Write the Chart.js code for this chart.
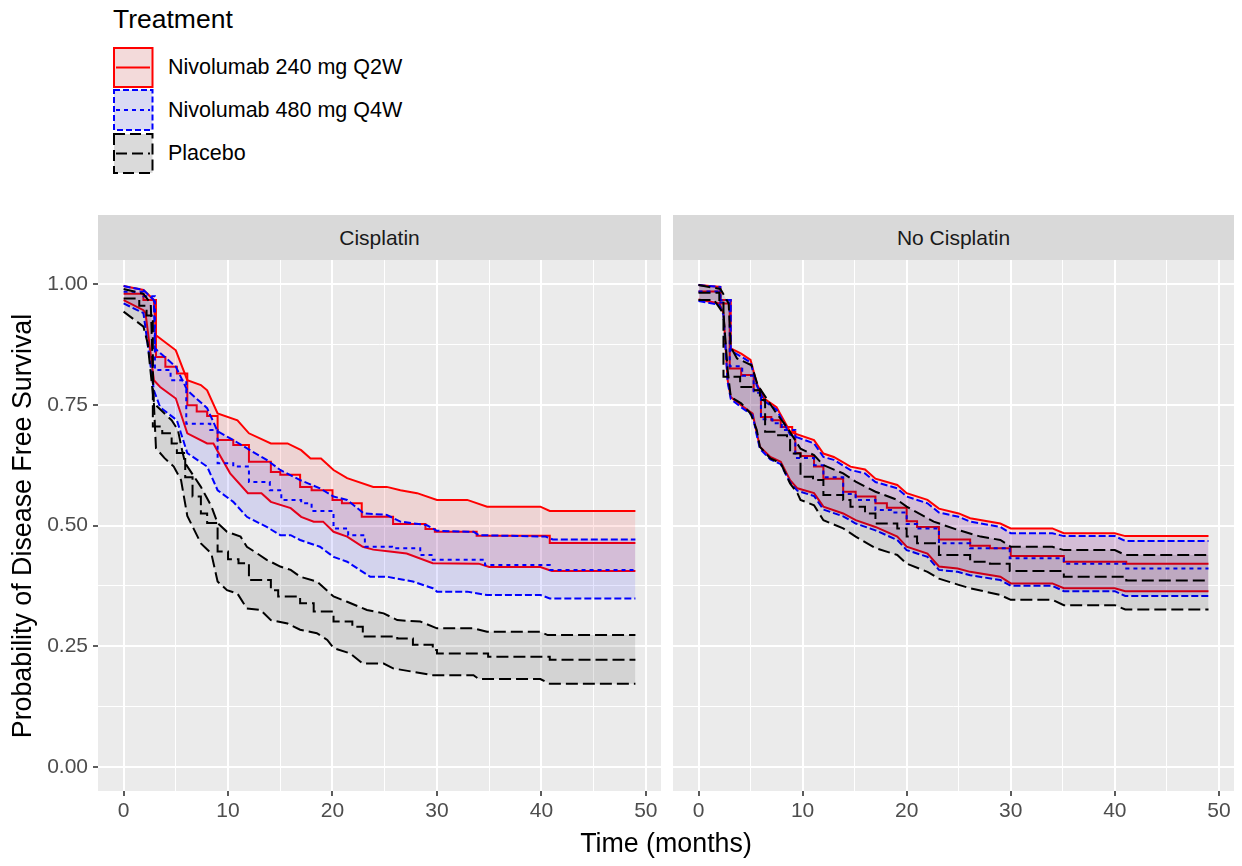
<!DOCTYPE html>
<html><head><meta charset="utf-8">
<script src="https://cdn.jsdelivr.net/npm/chart.js@4.4.1/dist/chart.umd.min.js"></script>
<style>
body{margin:0;background:#fff;width:1242px;height:866px;overflow:hidden;font-family:"Liberation Sans",Arial,sans-serif;position:relative;color:#000}
.abs{position:absolute;white-space:nowrap}
.strip{position:absolute;top:215px;height:45px;background:#D9D9D9;color:#1A1A1A;font-size:21px;display:flex;align-items:center;justify-content:center}
canvas{position:absolute}
</style></head><body>
<div class="abs" style="left:113px;top:4px;font-size:26.5px;line-height:30px">Treatment</div>
<svg class="abs" style="left:0;top:0" width="160" height="190">
 <rect x="114" y="48" width="38.5" height="39" fill="rgb(243,218,218)" stroke="#FF0000" stroke-width="2"/>
 <line x1="116" x2="150" y1="67.5" y2="67.5" stroke="#FF0000" stroke-width="2"/>
 <rect x="114" y="90" width="38.5" height="40" fill="rgb(218,218,243)" stroke="#0000FF" stroke-width="2" stroke-dasharray="6,3"/>
 <line x1="116" x2="150" y1="110" y2="110" stroke="#0000FF" stroke-width="2" stroke-dasharray="4,4"/>
 <rect x="114" y="134" width="38.5" height="39" fill="rgb(218,218,218)" stroke="#000000" stroke-width="2" stroke-dasharray="11,5"/>
 <line x1="116" x2="150" y1="153.5" y2="153.5" stroke="#000000" stroke-width="2" stroke-dasharray="11,5"/>
</svg>
<div id="lg0" class="abs" style="left:168px;top:54px;font-size:21.5px;line-height:26px"></div>
<div id="lg1" class="abs" style="left:168px;top:97px;font-size:21.5px;line-height:26px"></div>
<div id="lg2" class="abs" style="left:168px;top:140px;font-size:21.5px;line-height:26px"></div>
<div id="st0" class="strip" style="left:98px;width:563px"></div>
<div id="st1" class="strip" style="left:673px;width:561px"></div>
<canvas id="c0" width="665" height="580" style="left:0;top:250px"></canvas>
<canvas id="c1" width="570" height="580" style="left:668px;top:250px"></canvas>
<div class="abs" style="left:-278px;top:511px;width:600px;text-align:center;font-size:26.8px;line-height:30px;transform:rotate(-90deg)">Probability of Disease Free Survival</div>
<div class="abs" style="left:366px;top:828px;width:600px;text-align:center;font-size:26.8px;line-height:30px">Time (months)</div>
<script>
const treatments = ['Nivolumab 240 mg Q2W','Nivolumab 480 mg Q4W','Placebo'];
const facets = ['Cisplatin','No Cisplatin'];
const xMajor = [0,10,20,30,40,50];
const xMinor = [5,15,25,35,45];
const yMajor = [0,0.25,0.5,0.75,1];
const yMinor = [0.125,0.375,0.625,0.875];

// ---- Cisplatin: [time (months), probability]
const cisN240Est = [[0,0.980],[1.9,0.967],[3.1,0.849],[4.0,0.829],[5.1,0.815],[6.1,0.749],[7.0,0.736],[8.0,0.727],[9.0,0.677],[10.5,0.667],[12.0,0.632],[14.1,0.611],[15.0,0.605],[16.9,0.580],[18.0,0.573],[20.0,0.553],[20.9,0.546],[22.8,0.518],[25.8,0.503],[28.9,0.493],[29.8,0.487],[33.8,0.479],[40.8,0.464],[49,0.464]];
const cisN240Up = [[0,0.996],[1.9,0.988],[2.9,0.967],[3.1,0.894],[5.0,0.863],[6.1,0.801],[7.4,0.791],[8.0,0.780],[9.0,0.732],[10.9,0.718],[12.0,0.691],[14.1,0.670],[15.7,0.670],[17.0,0.656],[17.9,0.639],[18.9,0.639],[20.1,0.615],[21.4,0.598],[23.9,0.580],[25.2,0.580],[26.5,0.573],[28.1,0.567],[30.0,0.553],[32.9,0.553],[34.8,0.539],[39.9,0.539],[40.8,0.530],[49,0.530]];
const cisN240Lo = [[0,0.967],[1.9,0.946],[2.1,0.940],[2.9,0.801],[3.5,0.787],[5.0,0.763],[6.1,0.691],[8.0,0.670],[8.6,0.670],[9.2,0.646],[10.2,0.608],[11.9,0.567],[13.2,0.567],[14.1,0.549],[16.0,0.536],[17.0,0.518],[18.2,0.508],[19.1,0.508],[20.1,0.487],[21.4,0.477],[22.9,0.456],[23.9,0.450],[25.5,0.446],[27.1,0.442],[29.6,0.422],[34.0,0.421],[35.0,0.414],[39.9,0.414],[41.0,0.406],[49,0.406]];
const cisN480Est = [[0,0.984],[1.9,0.975],[3.0,0.822],[4.5,0.801],[6.0,0.711],[8.3,0.698],[9.0,0.629],[10.5,0.622],[12.0,0.590],[14.0,0.573],[15.1,0.553],[17.0,0.546],[18.0,0.530],[20.1,0.494],[21.5,0.480],[23.1,0.456],[25.7,0.453],[28.4,0.439],[29.6,0.429],[34.6,0.418],[40.8,0.408],[49,0.408]];
const cisN480Up = [[0,0.996],[1.9,0.988],[2.9,0.967],[3.0,0.867],[5.0,0.829],[6.1,0.780],[8.0,0.743],[9.0,0.695],[10.5,0.677],[12.1,0.656],[13.7,0.636],[15.0,0.615],[16.9,0.594],[18.8,0.577],[20.1,0.560],[21.4,0.553],[23.0,0.525],[25.2,0.522],[26.5,0.508],[29.0,0.501],[30.0,0.489],[33.5,0.487],[34.0,0.480],[40.4,0.477],[41.1,0.471],[49,0.471]];
const cisN480Lo = [[0,0.960],[1.9,0.940],[2.9,0.780],[3.5,0.745],[5.1,0.718],[6.1,0.650],[8.0,0.622],[9.0,0.573],[10.5,0.549],[11.8,0.518],[13.7,0.497],[15.0,0.480],[16.0,0.480],[16.9,0.470],[18.8,0.456],[20.1,0.435],[21.4,0.425],[23.6,0.394],[25.2,0.394],[27.7,0.384],[29.6,0.370],[30.0,0.363],[32.9,0.363],[34.8,0.356],[39.9,0.356],[40.8,0.349],[49,0.349]];
const cisPboEst = [[0,0.970],[1.5,0.955],[2.2,0.935],[2.8,0.705],[3.7,0.691],[4.6,0.670],[5.1,0.650],[5.9,0.600],[6.6,0.560],[7.4,0.525],[8.0,0.505],[9.0,0.446],[10.0,0.430],[11.0,0.422],[12.0,0.387],[14.1,0.366],[14.8,0.353],[16.9,0.339],[18.2,0.322],[20.1,0.301],[21.9,0.290],[22.9,0.270],[26.2,0.266],[27.7,0.253],[29.6,0.242],[30.0,0.235],[34.9,0.228],[40.8,0.222],[49,0.222]];
const cisPboUp = [[0,0.990],[1.9,0.980],[2.6,0.960],[2.9,0.753],[4.6,0.718],[5.2,0.698],[5.6,0.656],[5.9,0.629],[7.4,0.580],[8.4,0.540],[9.0,0.505],[9.9,0.487],[11.2,0.477],[11.8,0.456],[12.8,0.442],[13.7,0.429],[15.0,0.415],[16.0,0.408],[16.9,0.394],[18.5,0.384],[20.1,0.353],[21.4,0.342],[23.3,0.325],[24.9,0.318],[26.2,0.304],[28.4,0.301],[30.0,0.287],[33.5,0.287],[34.8,0.280],[39.9,0.280],[40.6,0.273],[49,0.273]];
const cisPboLo = [[0,0.943],[1.9,0.912],[2.3,0.878],[2.9,0.753],[3.1,0.660],[3.9,0.640],[4.8,0.622],[5.5,0.594],[6.1,0.520],[7.4,0.463],[8.4,0.442],[9.0,0.384],[9.9,0.366],[10.9,0.359],[11.8,0.328],[13.1,0.325],[14.1,0.304],[15.7,0.297],[16.9,0.284],[18.5,0.277],[19.5,0.263],[20.1,0.246],[21.7,0.235],[22.9,0.214],[24.9,0.214],[25.8,0.204],[27.7,0.197],[29.6,0.190],[33.5,0.190],[34.0,0.182],[39.9,0.182],[40.8,0.172],[49,0.172]];

// ---- No Cisplatin
const noN240Est = [[0,0.985],[2.1,0.960],[3.0,0.825],[4.1,0.812],[5.3,0.780],[6.0,0.725],[7.0,0.718],[7.9,0.704],[9.0,0.694],[9.3,0.650],[9.8,0.644],[11.1,0.622],[12.0,0.597],[13.9,0.570],[15.1,0.560],[17.0,0.546],[18.1,0.537],[20.0,0.509],[21.0,0.497],[23.1,0.471],[26.1,0.458],[28.0,0.453],[30.0,0.437],[35.1,0.425],[41.1,0.421],[49,0.421]];
const noN240Up = [[0,0.998],[2.1,0.994],[2.1,0.967],[3.1,0.967],[3.1,0.867],[4.1,0.856],[5.0,0.843],[5.6,0.794],[6.3,0.763],[7.5,0.745],[8.8,0.694],[11.1,0.677],[12.0,0.649],[13.0,0.642],[14.6,0.622],[16.0,0.616],[17.0,0.597],[19.1,0.584],[20.0,0.567],[22.0,0.553],[23.1,0.535],[25.0,0.525],[26.1,0.515],[29.0,0.504],[30.0,0.494],[34.0,0.494],[35.1,0.484],[40.0,0.484],[41.0,0.478],[49,0.478]];
const noN240Lo = [[0,0.968],[2.0,0.960],[2.4,0.940],[2.8,0.801],[3.1,0.766],[4.1,0.749],[5.2,0.732],[5.6,0.691],[5.9,0.663],[6.9,0.642],[7.9,0.632],[8.8,0.594],[9.5,0.577],[11.1,0.567],[12.0,0.539],[13.9,0.525],[15.1,0.511],[17.0,0.497],[19.1,0.477],[20.0,0.456],[22.0,0.442],[23.1,0.415],[24.9,0.411],[26.1,0.404],[29.0,0.394],[30.0,0.380],[34.0,0.380],[35.1,0.370],[40.0,0.370],[41.0,0.364],[49,0.364]];
const noN480Est = [[0,0.985],[2.1,0.962],[3.0,0.830],[4.2,0.810],[5.3,0.775],[6.0,0.720],[7.1,0.712],[8.0,0.698],[9.3,0.640],[11.1,0.625],[12.0,0.600],[13.9,0.565],[15.1,0.553],[17.0,0.532],[18.5,0.527],[20.0,0.503],[21.0,0.494],[23.1,0.463],[26.1,0.453],[29.9,0.432],[35.1,0.421],[41.1,0.411],[49,0.411]];
const noN480Up = [[0,0.998],[2.1,0.994],[2.1,0.967],[3.1,0.967],[3.1,0.862],[4.1,0.850],[5.0,0.838],[5.6,0.790],[6.3,0.758],[7.5,0.740],[8.8,0.688],[11.1,0.670],[12.0,0.642],[13.0,0.636],[14.6,0.615],[16.0,0.608],[17.0,0.590],[19.1,0.577],[20.0,0.560],[22.0,0.546],[23.1,0.527],[25.0,0.518],[26.1,0.508],[29.0,0.497],[30.0,0.484],[34.0,0.484],[35.1,0.478],[40.0,0.478],[41.0,0.468],[49,0.468]];
const noN480Lo = [[0,0.965],[2.0,0.957],[2.4,0.936],[2.8,0.797],[3.1,0.762],[4.1,0.745],[5.2,0.728],[5.6,0.687],[5.9,0.659],[6.9,0.637],[7.9,0.627],[8.8,0.589],[9.5,0.572],[11.1,0.561],[12.0,0.533],[13.9,0.519],[15.1,0.504],[17.0,0.490],[19.1,0.470],[20.0,0.449],[22.0,0.435],[23.1,0.408],[24.9,0.404],[26.1,0.397],[29.0,0.387],[30.0,0.375],[34.0,0.375],[35.1,0.364],[40.0,0.364],[41.0,0.354],[49,0.354]];
const noPboEst = [[0,0.982],[2.0,0.967],[2.4,0.808],[4.0,0.787],[5.3,0.780],[5.9,0.760],[6.4,0.694],[7.5,0.687],[8.5,0.677],[8.8,0.649],[9.8,0.601],[11.0,0.594],[12.0,0.563],[13.9,0.553],[14.6,0.539],[16.0,0.525],[17.0,0.504],[19.1,0.494],[20.0,0.477],[21.0,0.463],[23.1,0.439],[26.1,0.425],[28.0,0.421],[29.9,0.406],[35.1,0.394],[41.1,0.386],[49,0.386]];
const noPboUp = [[0,0.998],[2.1,0.990],[2.9,0.960],[3.1,0.870],[3.7,0.846],[5.1,0.832],[5.7,0.790],[7.5,0.732],[8.5,0.704],[9.8,0.659],[11.1,0.646],[12.0,0.625],[13.9,0.608],[15.1,0.591],[17.0,0.570],[19.1,0.553],[20.0,0.539],[22.6,0.508],[24.9,0.491],[27.1,0.477],[29.0,0.470],[30.0,0.456],[34.0,0.456],[35.1,0.449],[40.0,0.449],[41.0,0.439],[49,0.439]];
const noPboLo = [[0,0.967],[1.5,0.967],[2.4,0.939],[2.8,0.822],[3.1,0.766],[4.1,0.753],[5.0,0.732],[5.6,0.698],[5.9,0.663],[6.9,0.639],[7.9,0.629],[8.8,0.587],[9.5,0.567],[9.8,0.553],[11.1,0.542],[12.0,0.511],[13.9,0.494],[15.1,0.477],[17.0,0.453],[19.1,0.439],[20.0,0.421],[22.0,0.404],[23.1,0.390],[25.0,0.377],[26.1,0.370],[29.0,0.356],[30.0,0.346],[34.0,0.346],[35.1,0.335],[40.0,0.335],[41.0,0.326],[49,0.326]];

const FF = '"Liberation Sans", Arial, sans-serif';
const LW = 2.0;
const sty = {
  n240:{color:'#FF0000', fill:'rgba(255,0,0,0.1)', est:[], ci:[]},
  n480:{color:'#0000FF', fill:'rgba(0,0,255,0.1)', est:[4,4], ci:[7,3]},
  pbo:{color:'#000000', fill:'rgba(0,0,0,0.1)', est:[12,5], ci:[12,5]}
};

treatments.forEach((t,i)=>document.getElementById('lg'+i).textContent=t);
facets.forEach((f,i)=>document.getElementById('st'+i).textContent=f);

const pts = a => a.map(p=>({x:p[0], y:p[1]}));
function buildDatasets(groups){
  const ds = [];
  groups.forEach(g=>{
    const iLo = ds.length;
    const base = {borderColor:g.s.color, borderWidth:LW, pointRadius:0, tension:0, borderCapStyle:'butt'};
    ds.push(Object.assign({}, base, {data:pts(g.lo), borderDash:g.s.ci, fill:false}));
    ds.push(Object.assign({}, base, {data:pts(g.up), borderDash:g.s.ci, fill:{target:iLo}, backgroundColor:g.s.fill}));
    ds.push(Object.assign({}, base, {data:pts(g.est), borderDash:g.s.est, stepped:true, fill:false}));
  });
  return ds;
}

const bgPlugin = {id:'panelBg', beforeDraw(ch){const a=ch.chartArea, c=ch.ctx; c.save(); c.fillStyle='#EBEBEB'; c.fillRect(a.left,a.top,a.right-a.left,a.bottom-a.top); c.restore();}};
const isMaj = (arr,v) => arr.some(m=>Math.abs(m-v)<1e-9);

function makeChart(id, datasets, showY){
  return new Chart(document.getElementById(id), {
    type:'line',
    data:{datasets},
    options:{
      responsive:false, animation:false, devicePixelRatio:1,
      layout:{padding:{top:10, right:4, left:showY?0:5, bottom:0}},
      plugins:{legend:{display:false}, tooltip:{enabled:false}},
      scales:{
        x:{type:'linear', min:-2.45, max:51.45,
          afterBuildTicks:s=>{s.ticks=[...xMajor,...xMinor].sort((a,b)=>a-b).map(v=>({value:v}));},
          afterFit:s=>{s.height=39; s.paddingLeft=0; s.paddingRight=0;},
          ticks:{autoSkip:false, maxRotation:0, minRotation:0, padding:3, color:'#4D4D4D', font:{size:21, family:FF},
            callback:v=>isMaj(xMajor,v)?String(v):''},
          grid:{color:'#FFFFFF', lineWidth:c=>(c.tick&&isMaj(xMajor,c.tick.value))?2:1,
            tickColor:c=>(c.tick&&isMaj(xMajor,c.tick.value))?'#333333':'rgba(0,0,0,0)', tickLength:5, tickWidth:1.6, drawTicks:true},
          border:{display:false}},
        y:{type:'linear', min:-0.05, max:1.05,
          afterBuildTicks:s=>{s.ticks=[...yMajor,...yMinor].sort((a,b)=>a-b).map(v=>({value:v}));},
          afterFit:s=>{s.width=showY?98:0; s.paddingTop=0; s.paddingBottom=0;},
          ticks:{display:showY, autoSkip:false, padding:5, color:'#4D4D4D', font:{size:21, family:FF},
            callback:v=>isMaj(yMajor,v)?v.toFixed(2):''},
          grid:{color:'#FFFFFF', lineWidth:c=>(c.tick&&isMaj(yMajor,c.tick.value))?2:1,
            tickColor:c=>(c.tick&&isMaj(yMajor,c.tick.value))?'#333333':'rgba(0,0,0,0)', tickLength:5, tickWidth:1.6, drawTicks:showY},
          border:{display:false}}
      }
    },
    plugins:[bgPlugin]
  });
}

makeChart('c0', buildDatasets([
  {s:sty.pbo, lo:cisPboLo, up:cisPboUp, est:cisPboEst},
  {s:sty.n480, lo:cisN480Lo, up:cisN480Up, est:cisN480Est},
  {s:sty.n240, lo:cisN240Lo, up:cisN240Up, est:cisN240Est}
]), true);
makeChart('c1', buildDatasets([
  {s:sty.pbo, lo:noPboLo, up:noPboUp, est:noPboEst},
  {s:sty.n480, lo:noN480Lo, up:noN480Up, est:noN480Est},
  {s:sty.n240, lo:noN240Lo, up:noN240Up, est:noN240Est}
]), false);
</script>
</body></html>
